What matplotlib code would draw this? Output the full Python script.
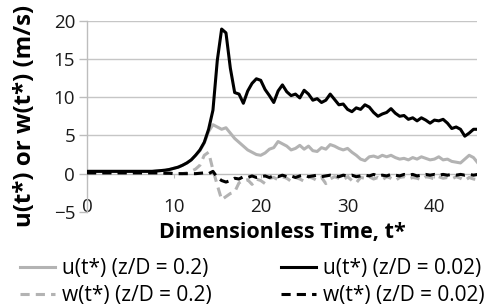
import numpy as np
import matplotlib
matplotlib.use("Agg")
import matplotlib.pyplot as plt

plt.rcParams['font.family'] = ['Open Sans', 'DejaVu Sans']

# Dimensionless time grid (t*)
t_star = np.arange(0, 45.01, 0.5)

# u(t*) at z/D = 0.02 (black solid)
u_002 = [0.3, 0.3, 0.3, 0.3, 0.3, 0.3, 0.3, 0.3, 0.3, 0.3, 0.3, 0.3, 0.3, 0.3, 0.3, 0.3,
         0.35, 0.4, 0.45, 0.55, 0.7, 0.85, 1.1, 1.4, 1.8, 2.4, 3.1, 4.1, 5.8, 8.3,
         14.8, 18.9, 18.4, 13.8, 10.6, 10.4, 9.2, 10.8, 11.8, 12.4, 12.2, 11.0, 10.2, 9.3,
         10.8, 11.6, 10.7, 10.2, 10.4, 9.9, 10.9, 10.4, 9.6, 9.8, 9.3, 9.6, 10.4, 9.7,
         9.0, 9.1, 8.4, 8.1, 8.6, 8.4, 9.0, 8.7, 8.0, 7.5, 7.8, 8.0, 8.5, 7.9, 7.5, 7.6,
         7.1, 7.3, 6.9, 7.3, 7.0, 6.6, 7.0, 6.9, 7.1, 6.6, 5.9, 6.1, 5.8, 4.9, 5.3, 5.8, 5.8]

# u(t*) at z/D = 0.2 (grey solid)
u_02 = [0.3, 0.3, 0.3, 0.3, 0.3, 0.3, 0.3, 0.3, 0.3, 0.3, 0.3, 0.3, 0.3, 0.3, 0.3, 0.3,
        0.35, 0.4, 0.45, 0.55, 0.7, 0.85, 1.1, 1.4, 1.8, 2.4, 3.0, 4.0, 5.5, 6.4,
        6.1, 5.8, 6.0, 5.3, 4.6, 4.1, 3.6, 3.1, 2.8, 2.5, 2.4, 2.7, 3.2, 3.4,
        4.2, 3.9, 3.6, 3.1, 3.3, 3.7, 3.2, 3.6, 3.0, 2.9, 3.4, 3.2, 3.8, 3.6,
        3.3, 3.1, 3.3, 2.8, 2.4, 1.9, 1.7, 2.2, 2.3, 2.1, 2.4, 2.2, 2.4, 2.1, 1.9, 2.0,
        1.8, 2.1, 1.9, 2.2, 2.0, 1.8, 1.9, 2.2, 1.8, 1.9, 1.6, 1.5, 1.4, 1.9, 2.4, 2.1, 1.4]

# w(t*) at z/D = 0.2 (grey dashed)
w_02 = [0.1, 0.1, 0.1, 0.1, 0.1, 0.1, 0.1, 0.1, 0.1, 0.1, 0.1, 0.1, 0.1, 0.1, 0.1, 0.1,
        0.1, 0.1, 0.1, 0.1, 0.0, 0.0, 0.0, 0.1, 0.3, 0.6, 1.1, 2.4, 2.8, 0.5,
        -1.5, -3.4, -3.0, -2.6, -2.4, -1.2, -0.9, -0.8, -1.4, -0.7, -0.9, -1.3, -0.6, -0.5,
        -0.8, -0.4, -0.6, -1.0, -0.5, -0.7, -1.0, -0.4, -0.6, -0.9, -0.5, -1.3, -0.7, -0.4,
        -0.6, -0.8, -0.4, -0.9, -1.2, -0.5, -0.6, -0.4, -0.7, -0.5, -0.8, -0.4, -0.6, -0.9,
        -0.5, -0.4, -0.7, -0.5, -0.6, -0.8, -0.4, -0.5, -0.7, -0.4, -0.6, -0.5, -0.7, -0.4,
        -0.6, -0.9, -0.5, -0.7, -0.8]

# w(t*) at z/D = 0.02 (black dashed)
w_002 = [0.1, 0.1, 0.1, 0.1, 0.1, 0.1, 0.1, 0.1, 0.1, 0.1, 0.1, 0.1, 0.1, 0.1, 0.1, 0.1,
         0.1, 0.1, 0.05, 0.05, 0.0, 0.0, 0.0, 0.0, 0.0, 0.0, 0.05, 0.1, 0.0, 0.3,
         -0.5, -0.9, -1.1, -0.9, -0.6, -0.7, -0.4, -0.5, -0.3, -0.5, -0.4, -0.3, -0.5, -0.3,
         -0.4, -0.2, -0.4, -0.3, -0.5, -0.3, -0.2, -0.4, -0.3, -0.2, -0.4, -0.3, -0.2, -0.3,
         -0.4, -0.2, -0.3, -0.2, -0.4, -0.3, -0.2, -0.3, -0.1, -0.3, -0.2, -0.3, -0.1, -0.2,
         -0.3, -0.1, -0.2, -0.1, -0.3, -0.2, -0.1, -0.2, -0.1, -0.2, -0.1, -0.2, -0.1, -0.2,
         -0.1, -0.2, -0.1, -0.2, -0.1]

x_ticks = [0, 10, 20, 30, 40]
y_ticks = [-5, 0, 5, 10, 15, 20]

fig = plt.figure(figsize=(4.93, 3.08), dpi=100)
ax = fig.add_axes([0.1765, 0.312, 0.791, 0.621])

grey = '#b3b3b3'
ax.plot(t_star, u_02, color=grey, lw=2.2, label='u(t*) (z/D = 0.2)', zorder=3)
ax.plot(t_star, w_02, color=grey, lw=2.2, ls=(0, (3, 2)), label='w(t*) (z/D = 0.2)', zorder=3)
ax.plot(t_star, u_002, color='black', lw=2.2, label='u(t*) (z/D = 0.02)', zorder=4)
ax.plot(t_star, w_002, color='black', lw=2.2, ls=(0, (3, 2)), label='w(t*) (z/D = 0.02)', zorder=4)

ax.set_xlim(0, 44.9)
ax.set_ylim(-5, 20)
ax.set_yticks(y_ticks)
ax.set_xticks(x_ticks)
for y in [5, 10, 15, 20]:
    ax.axhline(y, color='#c6c6c6', lw=1.0, zorder=1)
ax.axhline(0, color='#bdbdbd', lw=1.0, zorder=1)

for s in ['top', 'right', 'bottom']:
    ax.spines[s].set_visible(False)
ax.spines['left'].set_color('#bdbdbd')
ax.spines['left'].set_linewidth(1.0)

ax.tick_params(axis='y', direction='out', length=5.5, width=1.0, color='#bdbdbd',
               pad=3, labelsize=13.5, labelcolor='#1a1a1a')
ax.tick_params(axis='x', length=0, pad=-10, labelsize=13.5, labelcolor='#1a1a1a')

sec = ax.secondary_xaxis(0.2)
sec.set_xticks(x_ticks)
sec.tick_params(axis='x', direction='out', length=3, color='#bdbdbd', labelbottom=False)
sec.spines['bottom'].set_visible(False)

ax.set_xlabel('Dimensionless Time, t*', fontsize=15.5, fontweight='bold', labelpad=4)
ax.set_ylabel('u(t*) or w(t*) (m/s)', fontsize=17.3, fontweight='bold')
ax.yaxis.set_label_coords(-0.127, 0.5)

fig.legend(loc='upper left', bbox_to_anchor=(20 / 493, 1 - 258 / 308), ncol=2, frameon=False,
           fontsize=15, handlelength=1.7, handletextpad=0.33, columnspacing=3.3,
           labelspacing=0.28, borderaxespad=0, borderpad=0)

fig.savefig('out.png', dpi=100)
